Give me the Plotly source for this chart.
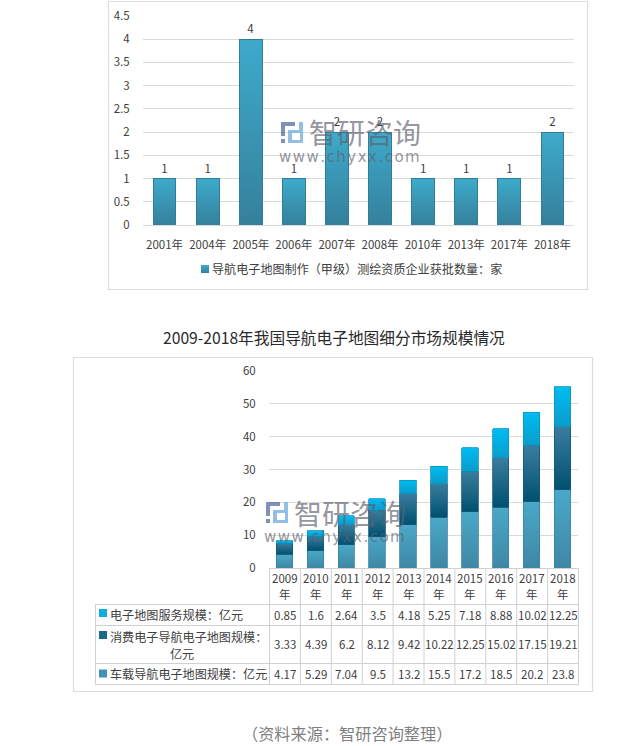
import plotly.graph_objects as go

W, H = 620, 746
FONT = "Noto Sans CJK SC"
TXT = "#404040"

years1 = ["2001年", "2004年", "2005年", "2006年", "2007年", "2008年", "2010年", "2013年", "2017年", "2018年"]
approved = [1, 1, 4, 1, 2, 2, 1, 1, 1, 2]
ticks1 = [0, 0.5, 1, 1.5, 2, 2.5, 3, 3.5, 4, 4.5]
name1 = "导航电子地图制作（甲级）测绘资质企业获批数量：家"

years2 = ["2009年", "2010年", "2011年", "2012年", "2013年", "2014年", "2015年", "2016年", "2017年", "2018年"]
service = [0.85, 1.6, 2.64, 3.5, 4.18, 5.25, 7.18, 8.88, 10.02, 12.25]
consumer = [3.33, 4.39, 6.2, 8.12, 9.42, 10.22, 12.25, 15.02, 17.15, 19.21]
vehicle = [4.17, 5.29, 7.04, 9.5, 13.2, 15.5, 17.2, 18.5, 20.2, 23.8]
service_label = "电子地图服务规模：亿元"
consumer_label = "消费电子导航电子地图规模："
consumer_unit = "亿元"
vehicle_label = "车载导航电子地图规模：亿元"
title2 = "2009-2018年我国导航电子地图细分市场规模情况"
source = "（资料来源：智研咨询整理）"


def px(x):
    return x / W


def py(y):
    return 1 - y / H


fig = go.Figure()

fig.add_bar(
    x=years1, y=approved, name=name1, xaxis="x", yaxis="y",
    marker=dict(color="#3a97b6", line=dict(color="#2f7d98", width=1)),
    text=approved, textposition="outside", cliponaxis=False,
    textfont=dict(size=11.5, color=TXT, family=FONT), showlegend=True,
)
for vals, name, col, edge in [
    (vehicle, "车载导航电子地图规模", "#3f94b3", "#3a86a2"),
    (consumer, "消费电子导航电子地图规模", "#1c6888", "#125a78"),
    (service, "电子地图服务规模", "#08aede", "#0a95c0"),
]:
    fig.add_bar(x=years2, y=vals, name=name, xaxis="x2", yaxis="y2", showlegend=False,
                marker=dict(color=col, line=dict(color=edge, width=0.8)))

LINE = "#d0d0d0"
shapes = [
    dict(type="rect", xref="paper", yref="paper", x0=px(108.5), x1=px(587.5), y0=py(289.5), y1=py(1.5),
         line=dict(color="#dcdcdc", width=1.2), layer="below"),
    dict(type="rect", xref="paper", yref="paper", x0=px(73.5), x1=px(592.5), y0=py(691.5), y1=py(357.5),
         line=dict(color="#dcdcdc", width=1.2), layer="below"),
]
annotations = []


def paper_text(text, x, y, size=11.5, color=TXT, anchor="center", family=FONT):
    annotations.append(dict(text=text, x=px(x), y=py(y), xref="paper", yref="paper", showarrow=False,
                            xanchor=anchor, yanchor="middle",
                            font=dict(size=size, color=color, family=family)))


paper_text(title2, 333.5, 337, size=15.7, color="#2a2a2a")
paper_text(source, 346.5, 733, size=16.2, color="#7f7f7f")


def hline(x0, x1, y):
    shapes.append(dict(type="line", xref="paper", yref="paper", x0=px(x0), x1=px(x1), y0=py(y), y1=py(y),
                       line=dict(color=LINE, width=1)))


def vline(x, y0, y1):
    shapes.append(dict(type="line", xref="paper", yref="paper", x0=px(x), x1=px(x), y0=py(y0), y1=py(y1),
                       line=dict(color=LINE, width=1)))


# data table under the second chart
T_LEFT, T_COL, T_RIGHT = 95.5, 269.5, 578.5
ROWS = [568.5, 604.5, 625.5, 663.5, 684.5]
cw = (T_RIGHT - T_COL) / len(years2)
hline(T_COL, T_RIGHT, ROWS[0])
for yy in ROWS[1:]:
    hline(T_LEFT, T_RIGHT, yy)
vline(T_LEFT, ROWS[1], ROWS[4])
for i in range(len(years2) + 1):
    vline(T_COL + i * cw, ROWS[0], ROWS[4])
for i, yr in enumerate(years2):
    cx = T_COL + (i + 0.5) * cw
    paper_text(yr[:4], cx, 577.5)
    paper_text(yr[4:], cx, 594)
    for vals, ry in [(service, 614.5), (consumer, 644), (vehicle, 674)]:
        paper_text(str(vals[i]), cx, ry)
paper_text(service_label, 108, 614, size=12.1, anchor="left")
paper_text(consumer_label, 108, 636, size=12.1, anchor="left")
paper_text(consumer_unit, 182, 653, size=12.1)
paper_text(vehicle_label, 108, 673.5, size=12.1, anchor="left")
for c, ymid in [("#08aede", 613), ("#1c6888", 635), ("#3f94b3", 673.5)]:
    shapes.append(dict(type="rect", xref="paper", yref="paper", x0=px(99), x1=px(107),
                       y0=py(ymid + 4), y1=py(ymid - 4), fillcolor=c, line=dict(width=0)))

# watermarks
WM = "rgba(95,95,110,0.68)"
for lx, ly in [(281, 122), (266, 502)]:
    for x0, x1, y0, y1, c in [
        (0, 14, 0, 4, "rgba(88,108,160,0.75)"), (0, 4, 4, 14, "rgba(88,108,160,0.75)"),
        (0, 4, 17, 21, "rgba(88,108,160,0.75)"),
        (7, 22, 8, 11, "rgba(120,175,225,0.8)"), (7, 11, 11, 21, "rgba(120,175,225,0.8)"),
        (11, 22, 18, 21, "rgba(120,175,225,0.8)"), (18, 22, 0, 8, "rgba(120,175,225,0.8)"),
        (19, 22, 11, 18, "rgba(120,175,225,0.8)"),
    ]:
        shapes.append(dict(type="rect", xref="paper", yref="paper",
                           x0=px(lx + x0), x1=px(lx + x1), y0=py(ly + y1), y1=py(ly + y0),
                           fillcolor=c, line=dict(width=0), layer="above"))
    paper_text("智研咨询", lx + 25.5, ly + 10.5, size=28, color=WM, anchor="left")
    paper_text("\u200a".join("www.chyxx.com"), lx + 68.5, ly + 35, size=15, color=WM, family="DejaVu Sans")

axis_font = dict(size=11.5, color=TXT, family=FONT)
fig.update_layout(
    width=W, height=H, margin=dict(l=0, r=0, t=0, b=0, autoexpand=False),
    paper_bgcolor="white", plot_bgcolor="white",
    barmode="stack", bargap=0.47,
    font=dict(family=FONT, color=TXT),
    shapes=shapes, annotations=annotations,
    xaxis=dict(domain=[px(143), px(574)], anchor="y", type="category", categoryorder="array",
               categoryarray=years1, ticks="outside", ticklen=9, tickcolor="rgba(0,0,0,0)",
               showline=True, linecolor="#d9d9d9", showgrid=False, tickfont=axis_font),
    yaxis=dict(domain=[py(225), py(16)], anchor="x", range=[0, 4.5], tickvals=ticks1,
               ticktext=[str(t) for t in ticks1],
               ticks="outside", ticklen=10, tickcolor="rgba(0,0,0,0)",
               gridcolor="#d9d9d9", zeroline=False, tickfont=axis_font),
    xaxis2=dict(domain=[px(269), px(578)], anchor="y2", type="category", categoryorder="array",
                categoryarray=years2, showticklabels=False, showline=True, linecolor="#d9d9d9",
                showgrid=False),
    yaxis2=dict(domain=[py(568), py(371)], anchor="x2", range=[0, 60], dtick=10,
                ticks="outside", ticklen=10, tickcolor="rgba(0,0,0,0)",
                gridcolor="#d9d9d9", zeroline=False, tickfont=axis_font),
    legend=dict(x=px(172), y=py(269), xanchor="left", yanchor="middle", orientation="h",
                font=dict(size=12.1, color=TXT, family=FONT), bgcolor="rgba(0,0,0,0)",
                itemwidth=30),
)

# Page without body margin, and vertical gradients on the library-drawn bars.
post = """
document.body.style.margin='0';
document.documentElement.style.overflow='hidden';
var gd=document.querySelector('.js-plotly-plot');
var svg=gd.querySelector('svg.main-svg');
var NS='http://www.w3.org/2000/svg';
var defs=svg.querySelector('defs');
function grad(id,a,b){var g=document.createElementNS(NS,'linearGradient');g.setAttribute('id',id);
g.setAttribute('x1','0');g.setAttribute('y1','0');g.setAttribute('x2','0');g.setAttribute('y2','1');
[[0,a],[1,b]].forEach(function(s){var t=document.createElementNS(NS,'stop');t.setAttribute('offset',s[0]);t.setAttribute('stop-color',s[1]);g.appendChild(t);});
defs.appendChild(g);}
grad('g0','#3eaacb','#35809b');grad('g1','#4aa8c8','#3e87a4');grad('g2','#3a7d9e','#00506f');grad('g3','#00bcf2','#0a9ccb');
var tr=gd.querySelectorAll('.barlayer .trace');
tr.forEach(function(t,i){t.querySelectorAll('.point path').forEach(function(p){p.style.fill='url(#g'+i+')';});});
var lg=gd.querySelector('.legend .legendpoints path');
if(lg){lg.style.fill='url(#g0)';lg.style.strokeWidth='0';lg.setAttribute('d','M4,4H-4V-4H4Z');lg.setAttribute('transform','translate(33,0)');}
"""
fig.write_html("out.html", post_script=post, config=dict(displayModeBar=False))
